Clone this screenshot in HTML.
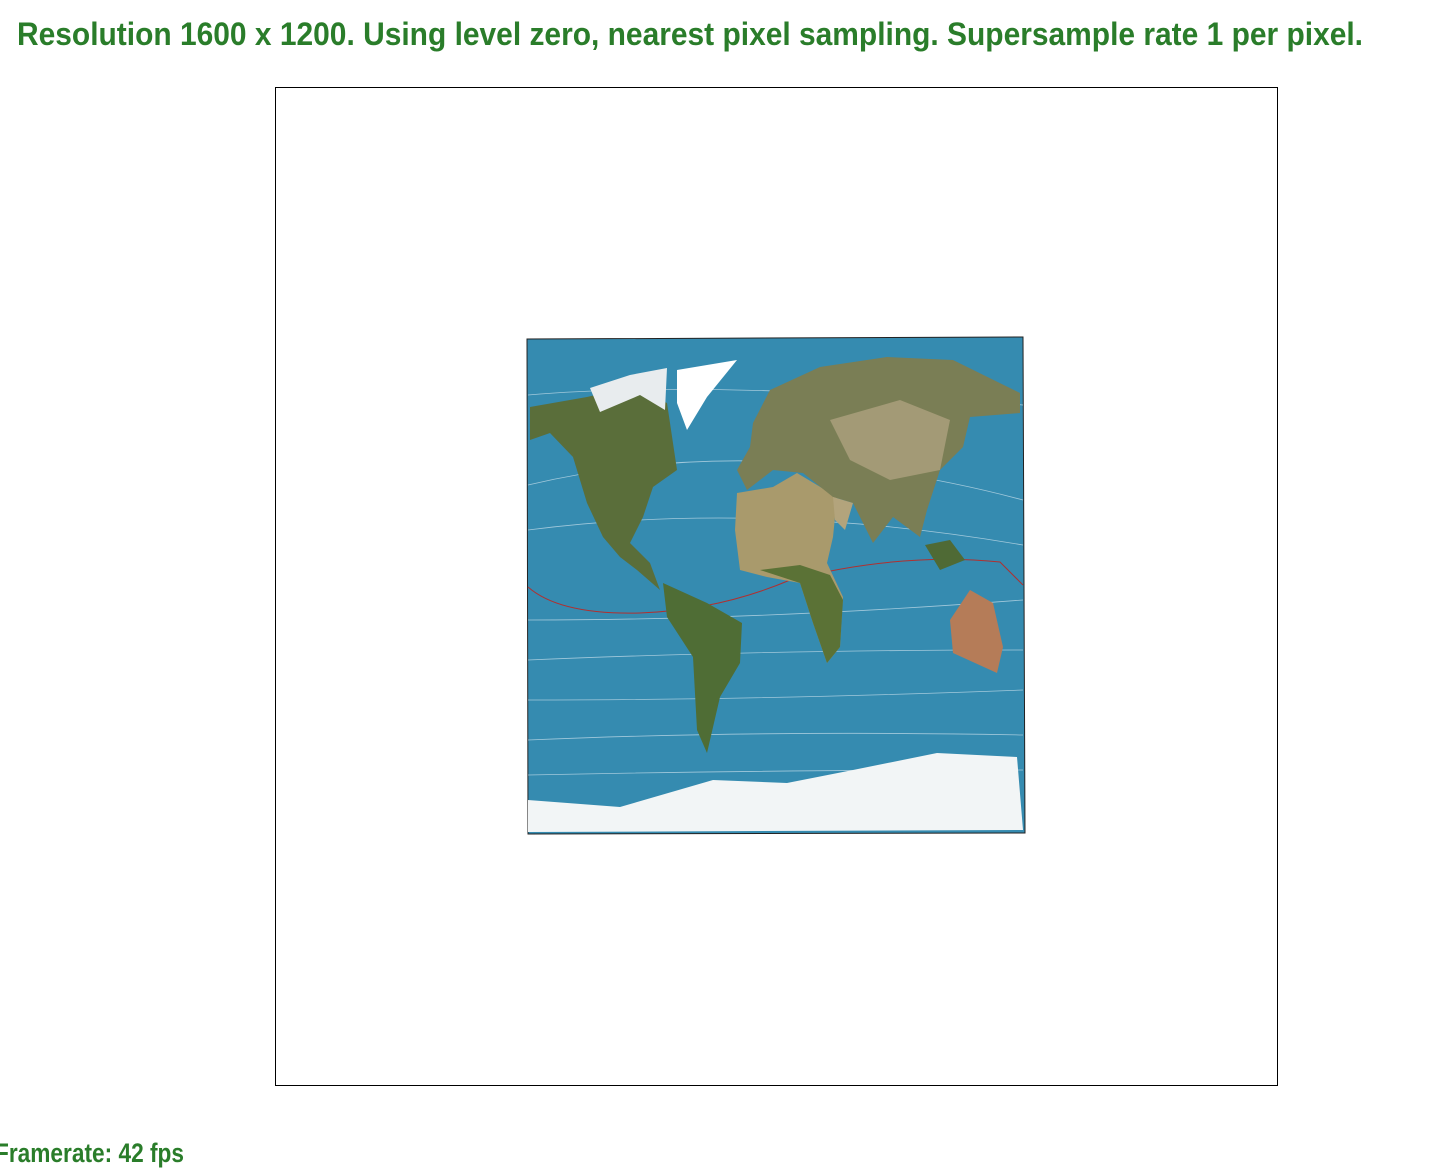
<!DOCTYPE html>
<html><head><meta charset="utf-8"><style>
html,body{margin:0;padding:0;background:#fff;width:1444px;height:1170px;overflow:hidden}
svg{display:block}
text{font-family:"Liberation Sans Narrow","Liberation Sans",sans-serif;font-weight:bold;fill:#2a7d2a}
</style></head><body>
<svg width="1444" height="1170" viewBox="0 0 1444 1170">
<text x="17" y="45" font-size="32" textLength="1346" lengthAdjust="spacingAndGlyphs">Resolution 1600 x 1200. Using level zero, nearest pixel sampling. Supersample rate 1 per pixel.</text>
<rect x="275.5" y="87.5" width="1002" height="998" fill="#fff" stroke="#000" stroke-width="1"/>
<g>
<polygon points="527,339 1023,337 1025,833 528,834" fill="#358bb0" stroke="#222" stroke-width="1"/>
<g stroke="#cfe3ee" stroke-width="0.8" fill="none" opacity="0.7">
<path d="M528,395 Q700,380 1023,405"/><path d="M528,485 Q760,430 1023,500"/><path d="M528,530 Q760,500 1023,545"/>
<path d="M528,620 Q760,620 1023,600"/><path d="M528,660 Q760,650 1023,650"/><path d="M528,700 Q760,700 1023,690"/>
<path d="M528,740 Q760,730 1023,735"/><path d="M528,775 Q760,770 1023,770"/>
</g>
<path d="M528,587 Q560,615 640,613 Q720,610 790,580 Q900,552 1000,562 L1023,585" stroke="#b03030" stroke-width="1" fill="none"/>
<polygon points="530,407 587,397 630,387 667,403 677,470 653,487 643,517 630,543 650,563 660,590 637,570 620,557 603,537 587,503 573,457 550,433 530,440" fill="#5a6e3a"/>
<polygon points="590,388 630,375 667,368 665,410 640,395 600,412" fill="#e8ecee"/>
<polygon points="677,370 737,360 707,397 687,430 677,403" fill="#ffffff"/>
<polygon points="663,583 707,603 742,623 740,663 720,697 707,753 697,730 693,657 667,617" fill="#4f6d35"/>
<polygon points="737,493 773,487 797,473 837,497 833,537 827,563 843,597 840,647 827,663 813,623 800,583 767,577 740,570 735,530" fill="#a99a6c"/>
<polygon points="760,570 800,565 830,575 843,600 840,647 827,663 813,623 800,583" fill="#5b7236"/>
<polygon points="753,423 770,390 820,367 887,357 953,360 1020,393 1020,413 970,417 963,447 940,470 927,510 920,537 893,517 873,543 853,503 833,497 803,473 773,470 747,490 737,470 750,447" fill="#7a7e55"/>
<polygon points="830,420 900,400 950,420 940,470 890,480 850,460" fill="#a39a76"/>
<polygon points="833,497 853,503 845,530 835,520" fill="#b3a47c"/>
<polygon points="925,545 950,540 965,560 940,570" fill="#4f6a35"/>
<polygon points="950,620 970,590 993,603 1003,647 997,673 953,653" fill="#b57c58"/>
<polygon points="528,800 620,807 713,780 787,783 853,770 937,753 1017,757 1023,830 528,832" fill="#f2f5f6"/>
</g>
<text x="-5" y="1162" font-size="27" textLength="189" lengthAdjust="spacingAndGlyphs">Framerate: 42 fps</text>
</svg>
</body></html>
